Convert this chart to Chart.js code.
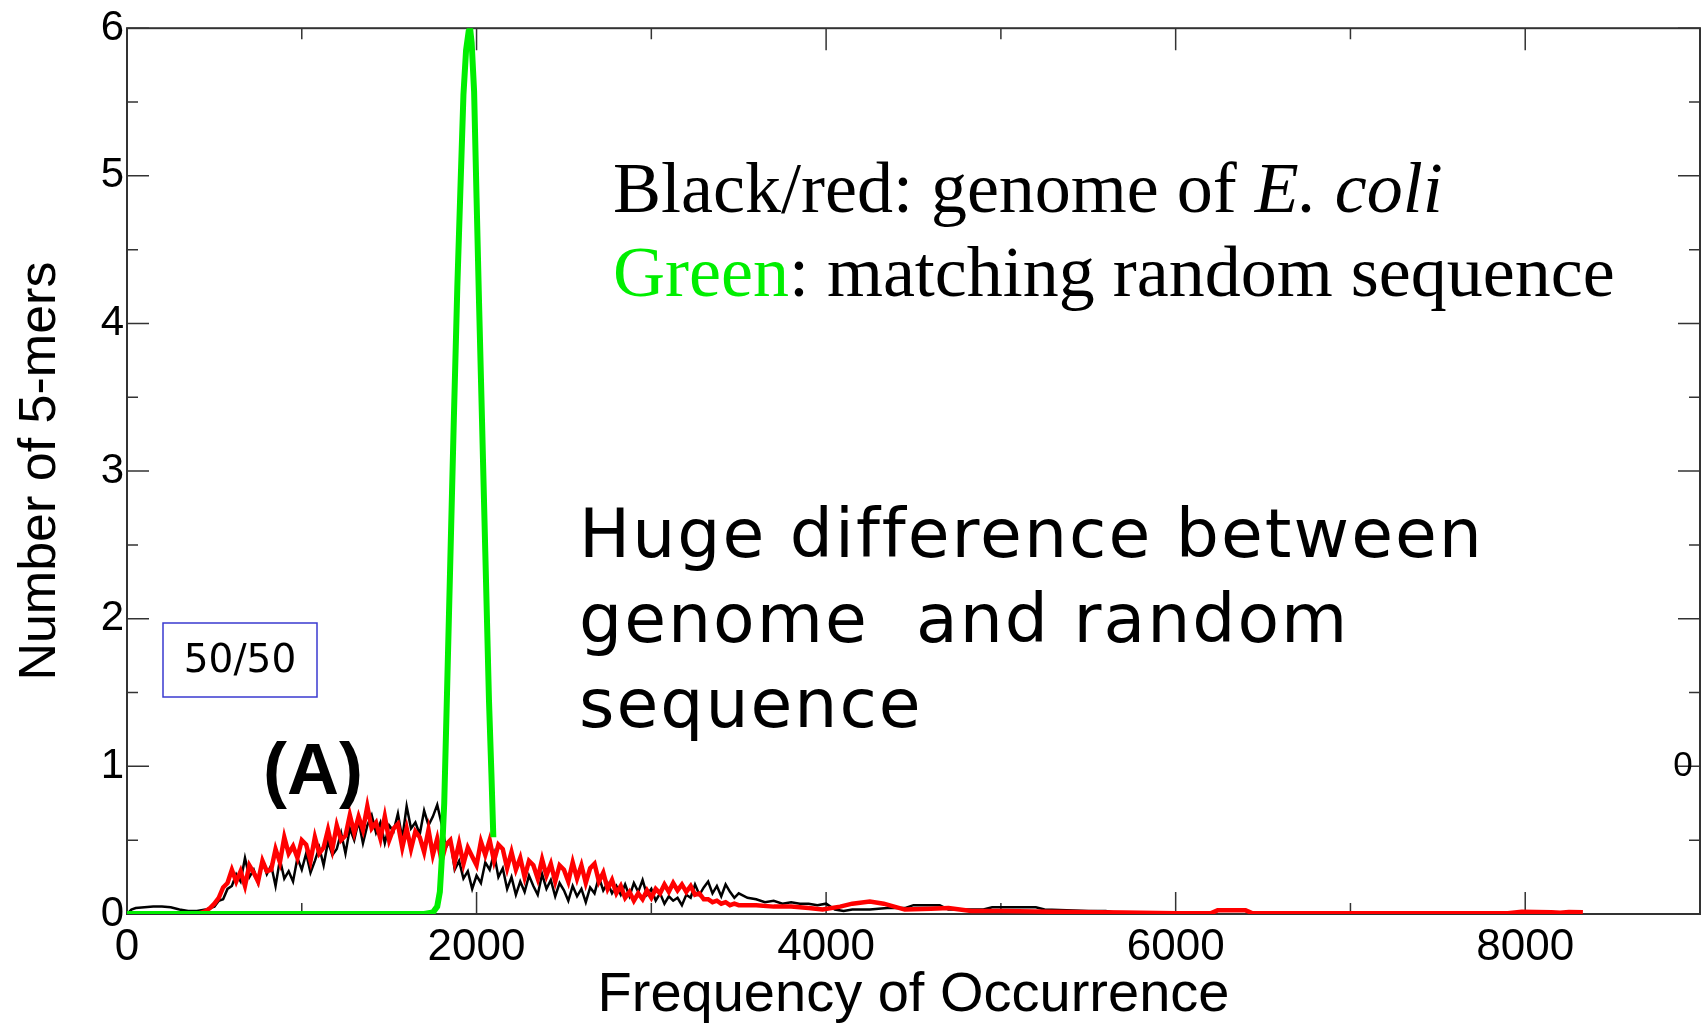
<!DOCTYPE html>
<html>
<head>
<meta charset="utf-8">
<title>5-mer frequency distribution</title>
<script src="https://cdn.jsdelivr.net/npm/chart.js@4.4.1/dist/chart.umd.min.js"></script>
<style>
  html, body { margin: 0; padding: 0; background: #fff; }
  canvas { display: block; }
</style>
</head>
<body>
<canvas id="kmerChart" width="1707" height="1024"></canvas>
<script>
// Axis ticks
const xMajorTicks = [0, 2000, 4000, 6000, 8000];
const xMinorTicks = [1000, 3000, 5000, 7000];
const yMajorTicks = [0, 1, 2, 3, 4, 5, 6];
const yMinorTicks = [0.5, 1.5, 2.5, 3.5, 4.5, 5.5];

// E. coli genome, black trace  [frequency, number of 5-mers]
const blackPoints = [
    [0, 0], [25, 0.03], [50, 0.04], [100, 0.045], [150, 0.05], [200, 0.05], [250, 0.045], [300, 0.03],
    [350, 0.02], [400, 0.02], [450, 0.03], [475, 0.04],
    [500, 0.05], [525, 0.09], [550, 0.10], [575, 0.17], [600, 0.19], [625, 0.27], [650, 0.22], [675, 0.38],
    [700, 0.25], [725, 0.30], [750, 0.21], [775, 0.36], [800, 0.27], [825, 0.33], [850, 0.19], [875, 0.37],
    [900, 0.24], [925, 0.29], [950, 0.22], [975, 0.38],
    [1000, 0.30], [1025, 0.41], [1050, 0.28], [1075, 0.36], [1100, 0.45], [1125, 0.33], [1150, 0.49], [1175, 0.40],
    [1200, 0.44], [1225, 0.55], [1250, 0.41], [1275, 0.58], [1300, 0.50], [1325, 0.63], [1350, 0.48], [1375, 0.60],
    [1400, 0.67], [1425, 0.55], [1450, 0.62], [1475, 0.48],
    [1500, 0.60], [1525, 0.56], [1550, 0.68], [1575, 0.51], [1600, 0.73], [1625, 0.58], [1650, 0.62], [1675, 0.54],
    [1700, 0.70], [1725, 0.60], [1750, 0.66], [1775, 0.74], [1800, 0.61], [1825, 0.45], [1850, 0.50], [1875, 0.30],
    [1900, 0.36], [1925, 0.24], [1950, 0.29], [1975, 0.17],
    [2000, 0.26], [2025, 0.21], [2050, 0.35], [2075, 0.30], [2100, 0.41], [2125, 0.25], [2150, 0.31], [2175, 0.17],
    [2200, 0.25], [2225, 0.13], [2250, 0.22], [2275, 0.15], [2300, 0.26], [2325, 0.19], [2350, 0.13], [2375, 0.27],
    [2400, 0.17], [2425, 0.23], [2450, 0.12], [2475, 0.21],
    [2500, 0.16], [2525, 0.09], [2550, 0.19], [2575, 0.12], [2600, 0.17], [2625, 0.08], [2650, 0.18], [2675, 0.14],
    [2700, 0.25], [2725, 0.16], [2750, 0.21], [2775, 0.14], [2800, 0.19], [2825, 0.13], [2850, 0.20], [2875, 0.12],
    [2900, 0.21], [2925, 0.15], [2950, 0.23], [2975, 0.13],
    [3000, 0.17], [3025, 0.09], [3050, 0.14], [3075, 0.07], [3100, 0.12], [3125, 0.09], [3150, 0.11], [3175, 0.06],
    [3200, 0.13], [3225, 0.11], [3250, 0.20], [3275, 0.13], [3300, 0.18], [3325, 0.22], [3350, 0.14], [3375, 0.19],
    [3400, 0.12], [3425, 0.20], [3450, 0.15], [3475, 0.11],
    [3500, 0.14], [3550, 0.11], [3600, 0.10], [3650, 0.08], [3700, 0.09], [3750, 0.07], [3800, 0.08], [3850, 0.07],
    [3900, 0.07], [3950, 0.06], [4000, 0.07], [4050, 0.03], [4100, 0.02], [4150, 0.03], [4250, 0.03], [4350, 0.04],
    [4450, 0.04], [4500, 0.06], [4650, 0.06], [4700, 0.03], [4900, 0.03], [4950, 0.045], [5200, 0.045], [5250, 0.03],
    [5500, 0.02], [5600, 0.02], [5650, 0.01], [5740, 0.01]
];

// E. coli genome, red trace
const redPoints = [
    [400, 0], [425, 0.01], [450, 0.02], [475, 0.04],
    [500, 0.07], [525, 0.11], [550, 0.18], [575, 0.21], [600, 0.30], [625, 0.22], [650, 0.29], [675, 0.19],
    [700, 0.33], [725, 0.28], [750, 0.22], [775, 0.36], [800, 0.29], [825, 0.30], [850, 0.44], [875, 0.35],
    [900, 0.52], [925, 0.41], [950, 0.46], [975, 0.38],
    [1000, 0.50], [1025, 0.47], [1050, 0.36], [1075, 0.52], [1100, 0.41], [1125, 0.45], [1150, 0.57], [1175, 0.44],
    [1200, 0.60], [1225, 0.50], [1250, 0.53], [1275, 0.67], [1300, 0.55], [1325, 0.66], [1350, 0.57], [1375, 0.73],
    [1400, 0.58], [1425, 0.62], [1450, 0.51], [1475, 0.66],
    [1500, 0.50], [1525, 0.58], [1550, 0.61], [1575, 0.45], [1600, 0.58], [1625, 0.44], [1650, 0.56], [1675, 0.52],
    [1700, 0.42], [1725, 0.57], [1750, 0.40], [1775, 0.51], [1800, 0.36], [1825, 0.47], [1850, 0.50], [1875, 0.35],
    [1900, 0.48], [1925, 0.34], [1950, 0.45], [1975, 0.39],
    [2000, 0.33], [2025, 0.49], [2050, 0.40], [2075, 0.50], [2100, 0.36], [2125, 0.47], [2150, 0.44], [2175, 0.31],
    [2200, 0.42], [2225, 0.30], [2250, 0.38], [2275, 0.25], [2300, 0.36], [2325, 0.33], [2350, 0.24], [2375, 0.37],
    [2400, 0.26], [2425, 0.34], [2450, 0.22], [2475, 0.33],
    [2500, 0.30], [2525, 0.22], [2550, 0.35], [2575, 0.24], [2600, 0.33], [2625, 0.21], [2650, 0.31], [2675, 0.34],
    [2700, 0.22], [2725, 0.28], [2750, 0.17], [2775, 0.23], [2800, 0.14], [2825, 0.19], [2850, 0.11], [2875, 0.15],
    [2900, 0.09], [2925, 0.14], [2950, 0.10], [2975, 0.16],
    [3000, 0.11], [3025, 0.17], [3050, 0.14], [3075, 0.20], [3100, 0.15], [3125, 0.21], [3150, 0.16], [3175, 0.20],
    [3200, 0.15], [3225, 0.19], [3250, 0.13], [3275, 0.14], [3300, 0.10], [3325, 0.10], [3350, 0.08], [3375, 0.09],
    [3400, 0.07], [3425, 0.08], [3450, 0.06], [3475, 0.07],
    [3500, 0.06], [3600, 0.06], [3700, 0.05], [3800, 0.05], [3900, 0.04], [3980, 0.03], [4080, 0.05], [4150, 0.07],
    [4250, 0.085], [4330, 0.07], [4450, 0.03], [4600, 0.035], [4700, 0.04], [4830, 0.02], [5000, 0.02], [5300, 0.015],
    [5700, 0.01], [6000, 0.005], [6200, 0.005], [6240, 0.025], [6400, 0.025], [6440, 0.005], [7900, 0.005],
    [7980, 0.015], [8150, 0.012], [8200, 0.008], [8250, 0.014], [8330, 0.012]
];

// matching random sequence
const greenPoints = [
    [0, 0], [1700, 0], [1750, 0.01], [1775, 0.05], [1790, 0.15], [1800, 0.35], [1815, 0.75], [1830, 1.45],
    [1850, 2.4], [1870, 3.35], [1890, 4.25], [1910, 5.0], [1925, 5.55], [1940, 5.85], [1955, 5.98], [1963, 6.0],
    [1972, 5.9], [1986, 5.57], [2000, 4.85], [2014, 4.15], [2030, 3.4], [2050, 2.45], [2071, 1.45], [2085, 0.95],
    [2096, 0.52]
];

const toXY = pts => pts.map(p => ({ x: p[0], y: p[1] }));

// box frame plus inward tick marks on all four sides
const frameTicks = {
    id: 'frameTicks',
    beforeDatasetsDraw(chart) {
        const { ctx, chartArea: a, scales: { x, y } } = chart;
        ctx.save();
        ctx.strokeStyle = '#333';
        ctx.lineWidth = 2;
        ctx.strokeRect(a.left, a.top, a.right - a.left, a.bottom - a.top);

        ctx.lineWidth = 1.5;
        ctx.beginPath();
        const vTick = (v, len) => {
            const px = x.getPixelForValue(v);
            ctx.moveTo(px, a.bottom); ctx.lineTo(px, a.bottom - len);
            ctx.moveTo(px, a.top); ctx.lineTo(px, a.top + len);
        };
        const hTick = (v, len) => {
            const py = y.getPixelForValue(v);
            ctx.moveTo(a.left, py); ctx.lineTo(a.left + len, py);
            ctx.moveTo(a.right, py); ctx.lineTo(a.right - len, py);
        };
        xMajorTicks.forEach(v => vTick(v, 22));
        xMinorTicks.forEach(v => vTick(v, 11));
        yMajorTicks.forEach(v => hTick(v, 22));
        yMinorTicks.forEach(v => hTick(v, 11));
        ctx.stroke();
        ctx.restore();
    }
};

// text placed over the plot
const annotations = {
    id: 'annotations',
    afterDatasetsDraw(chart) {
        const ctx = chart.ctx;
        ctx.save();
        ctx.textAlign = 'left';
        ctx.textBaseline = 'alphabetic';

        ctx.font = '72px "Liberation Serif"';
        ctx.fillStyle = '#000';
        const lead = 'Black/red: genome of ';
        ctx.fillText(lead, 613, 212);
        const leadW = ctx.measureText(lead).width;
        ctx.font = 'italic 72px "Liberation Serif"';
        ctx.fillText('E. coli', 613 + leadW, 212);

        ctx.font = '72px "Liberation Serif"';
        ctx.fillStyle = '#00ee00';
        ctx.fillText('Green', 613, 296);
        const greenW = ctx.measureText('Green').width;
        ctx.fillStyle = '#000';
        ctx.fillText(': matching random sequence', 613 + greenW, 296);

        ctx.font = '68px "DejaVu Sans"';
        ctx.letterSpacing = '2px';
        ctx.fillText('Huge difference between', 579, 557);
        ctx.fillText('genome  and random', 579, 642);
        ctx.fillText('sequence', 579, 727);
        ctx.letterSpacing = '0px';

        // 50/50 box
        ctx.strokeStyle = '#3a3ad0';
        ctx.lineWidth = 1.5;
        ctx.strokeRect(163, 623, 154, 74);
        ctx.font = '39px "DejaVu Sans"';
        ctx.textAlign = 'center';
        ctx.textBaseline = 'middle';
        ctx.fillText('50/50', 240, 662);

        ctx.font = 'bold 72px "Liberation Sans"';
        ctx.textBaseline = 'alphabetic';
        ctx.fillText('(A)', 313, 794);

        ctx.font = '35px "Liberation Sans"';
        ctx.fillText('0', 1683, 776);
        ctx.restore();
    }
};

const ctx = document.getElementById('kmerChart').getContext('2d');

const kmerChart = new Chart(ctx, {
    type: 'line',
    data: {
        datasets: [
            {
                label: 'random',
                data: toXY(greenPoints),
                borderColor: '#00ee00',
                borderWidth: 6,
                pointRadius: 0,
                tension: 0
            },
            {
                label: 'genome (red)',
                data: toXY(redPoints),
                borderColor: '#ff0000',
                borderWidth: 4.5,
                pointRadius: 0,
                tension: 0
            },
            {
                label: 'genome (black)',
                data: toXY(blackPoints),
                borderColor: '#000000',
                borderWidth: 2.5,
                pointRadius: 0,
                tension: 0
            }
        ]
    },
    options: {
        responsive: false,
        animation: false,
        devicePixelRatio: 1,
        layout: { padding: { top: 25, right: 7, left: 0, bottom: 0 } },
        plugins: {
            legend: { display: false },
            tooltip: { enabled: false }
        },
        scales: {
            x: {
                type: 'linear',
                min: 0,
                max: 9000,
                grid: { display: false, drawTicks: false },
                border: { display: false },
                afterBuildTicks: s => { s.ticks = xMajorTicks.map(value => ({ value })); },
                afterFit: s => { s.height = 110; },
                ticks: {
                    color: '#000',
                    font: { family: 'Liberation Sans', size: 44 },
                    padding: 7,
                    maxRotation: 0,
                    autoSkip: false,
                    callback: v => String(v)
                },
                title: {
                    display: true,
                    text: 'Frequency of Occurrence',
                    color: '#000',
                    font: { family: 'Liberation Sans', size: 56, lineHeight: 1 },
                    padding: { top: 0, bottom: 0 }
                }
            },
            y: {
                min: 0,
                max: 6,
                grid: { display: false, drawTicks: false },
                border: { display: false },
                afterBuildTicks: s => { s.ticks = yMajorTicks.map(value => ({ value })); },
                afterFit: s => { s.width = 127; },
                ticks: {
                    color: '#000',
                    font: { family: 'Liberation Sans', size: 42 },
                    padding: 3,
                    callback: v => String(v)
                },
                title: {
                    display: true,
                    text: 'Number of 5-mers',
                    color: '#000',
                    font: { family: 'Liberation Sans', size: 52, lineHeight: 1 },
                    padding: { top: 15, bottom: 0 }
                }
            }
        }
    },
    plugins: [frameTicks, annotations]
});
</script>
</body>
</html>
